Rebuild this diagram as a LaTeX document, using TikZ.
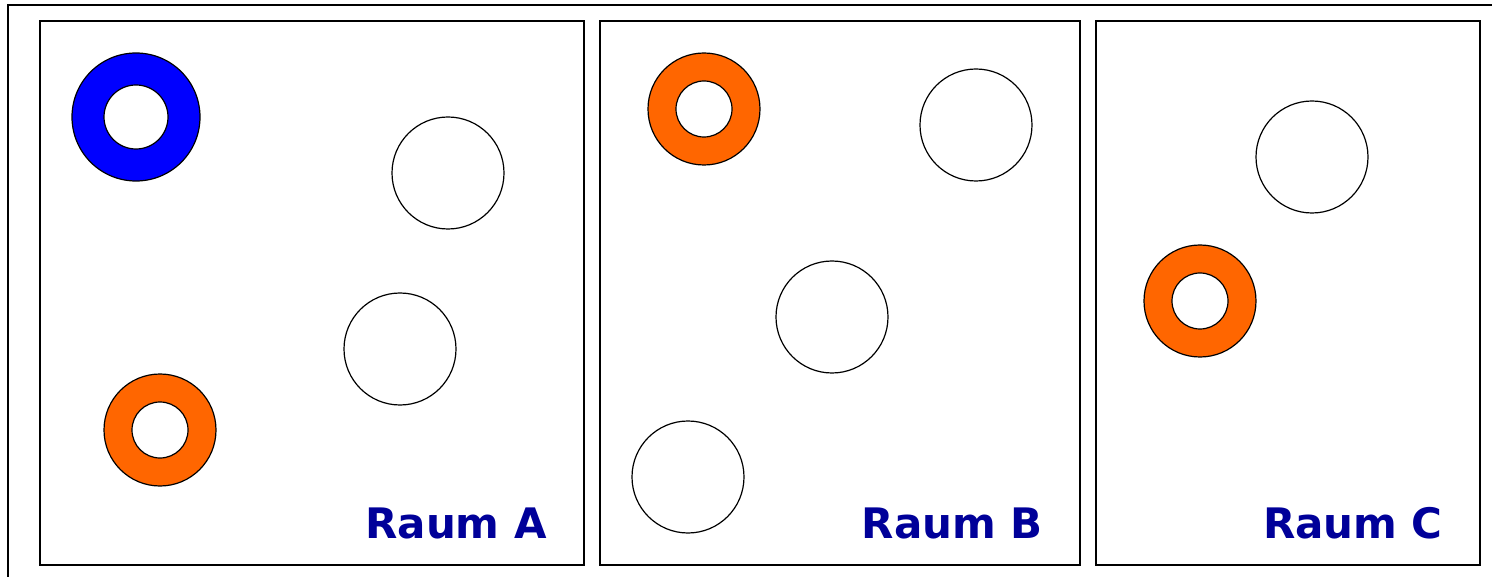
\documentclass[tikz,border=0pt]{standalone}
\usepackage{fontspec}
\setsansfont{DejaVu Sans}
\usepackage{xcolor}
\usepackage{tikz}
\usetikzlibrary{positioning}

\definecolor{ringblue}{HTML}{0000FF}
\definecolor{ringorange}{HTML}{FF6600}
\definecolor{labelblue}{HTML}{000099}

\begin{document}
\begin{tikzpicture}[
        x=1pt, y=-1pt,
        room/.style={
            draw,
            line width=1.6pt
        },
        ball/.style={
            circle,
            draw,
            line width=1.2pt,
            fill=white,
            inner sep=0pt,
            minimum size=112pt
        },
        ring/.style={
            ball,
            fill=#1
        },
        hole/.style={
            circle,
            draw,
            line width=1.2pt,
            fill=white,
            inner sep=0pt,
            minimum size=56pt
        },
        roomlabel/.style={
            anchor=base east,
            font=\sffamily\bfseries\fontsize{42}{48}\selectfont,
            text=labelblue,
            inner sep=0pt
        }
    ]

    \useasboundingbox (0,0) rectangle (1492,577);

    % frame
    \draw[line width=1.6pt] (8,600) -- (8,5) -- (1510,5);

    % rooms
    \draw[room] (40,21) rectangle (584,565);
    \draw[room] (600,21) rectangle (1080,565);
    \draw[room] (1096,21) rectangle (1480,565);

    % Raum A
    \node[ring=ringblue, minimum size=128pt] (blueA) at (136,117) {};
    \node[hole, minimum size=64pt] at (blueA) {};
    \node[ball] (ballA1) at (448,173) {};
    \node[ball] (ballA2) at (400,349) {};
    \node[ring=ringorange] (orangeA) at (160,430) {};
    \node[hole] at (orangeA) {};
    \node[roomlabel] (labelA) at (547,538) {Raum A};

    % Raum B
    \node[ring=ringorange] (orangeB) at (704,109) {};
    \node[hole] at (orangeB) {};
    \node[ball] (ballB1) at (976,125) {};
    \node[ball] (ballB2) at (832,317) {};
    \node[ball] (ballB3) at (688,477) {};
    \node[roomlabel] (labelB) at (1043,538) {Raum B};

    % Raum C
    \node[ball] (ballC1) at (1312,157) {};
    \node[ring=ringorange] (orangeC) at (1200,301) {};
    \node[hole] at (orangeC) {};
    \node[roomlabel] (labelC) at (1443,538) {Raum C};

\end{tikzpicture}
\end{document}
